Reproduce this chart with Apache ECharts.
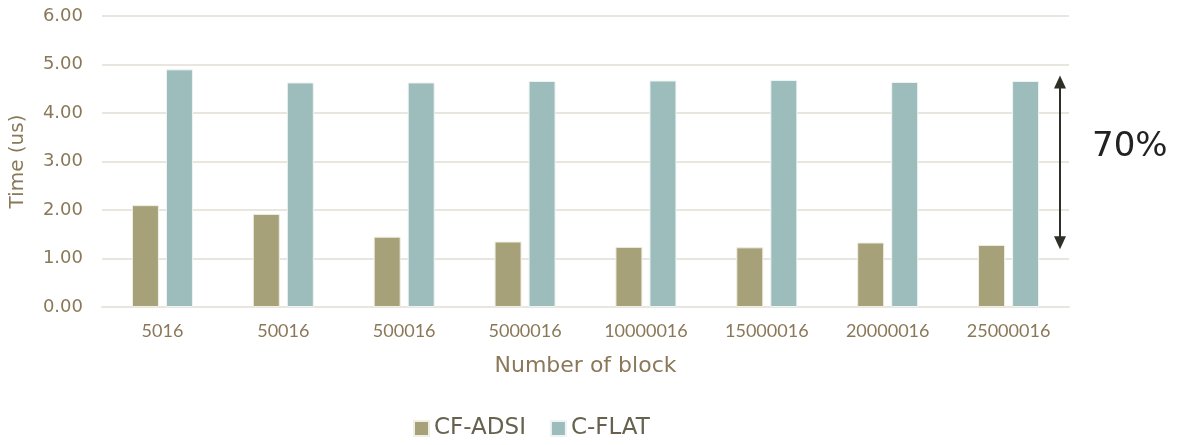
<!DOCTYPE html>
<html>
<head>
<meta charset="utf-8">
<script src="https://cdn.jsdelivr.net/npm/echarts@6/dist/echarts.min.js"></script>
<style>
html, body { margin: 0; padding: 0; background: #fff; }
#main { width: 1181px; height: 445px; }
</style>
</head>
<body>
<div id="main"></div>
<script>
// 数据
var blocks = ['5016', '50016', '500016', '5000016', '10000016', '15000016', '20000016', '25000016'];
var cfAdsi = [2.10, 1.92, 1.45, 1.35, 1.24, 1.23, 1.33, 1.28];
var cFlat  = [4.90, 4.63, 4.63, 4.66, 4.67, 4.68, 4.64, 4.66];
var arrowRange = [1.23, 4.73];   // 箭头上下端 (y值)
var labelText = '70%';

var txtColor = '#8a7858';
var font = 'DejaVu Sans';

var chart = echarts.init(document.getElementById('main'));

var option = {
    animation: false,
    textStyle: { fontFamily: font },
    grid: { left: 101, right: 112, top: 16, bottom: 138 },
    legend: {
        left: 408,
        bottom: 0,
        itemWidth: 15,
        itemHeight: 15,
        itemGap: 24,
        icon: 'rect',
        textStyle: { fontSize: 23, color: '#67624f', fontFamily: font },
        data: ['CF-ADSI', 'C-FLAT']
    },
    xAxis: {
        type: 'category',
        data: blocks,
        name: 'Number of block',
        nameLocation: 'middle',
        nameGap: 48,
        nameTextStyle: { fontSize: 22, color: txtColor },
        axisTick: { show: false },
        axisLine: { lineStyle: { color: '#e8e6df', width: 2 } },
        axisLabel: { fontSize: 18, color: txtColor, margin: 15, fontFamily: 'Lato' }
    },
    yAxis: {
        type: 'value',
        min: 0,
        max: 6,
        interval: 1,
        name: 'Time (us)',
        nameLocation: 'middle',
        nameGap: 74,
        nameTextStyle: { fontSize: 20, color: txtColor },
        axisLabel: {
            fontSize: 18,
            color: txtColor,
            margin: 19,
            formatter: function (v) { return v.toFixed(2); }
        },
        splitLine: { lineStyle: { color: '#e8e6df', width: 2 } }
    },
    series: [
        {
            name: 'CF-ADSI',
            type: 'bar',
            data: cfAdsi,
            barWidth: 27,
            barGap: '26%',
            itemStyle: { color: '#a6a178', borderColor: '#f0efe4', borderWidth: 1 }
        },
        {
            name: 'C-FLAT',
            type: 'bar',
            data: cFlat,
            barWidth: 27,
            itemStyle: { color: '#9dbdbc', borderColor: '#eef4f4', borderWidth: 1 }
        }
    ]
};

chart.setOption(option);

// 箭头 + 70% 注释
var top1 = chart.convertToPixel({ yAxisIndex: 0 }, arrowRange[1]);
var bot1 = chart.convertToPixel({ yAxisIndex: 0 }, arrowRange[0]);
var ax = 1060;
chart.setOption({
    graphic: [
        {
            type: 'line',
            shape: { x1: ax, y1: top1 + 8, x2: ax, y2: bot1 - 8 },
            style: { stroke: '#2f2f28', lineWidth: 2 }
        },
        {
            type: 'polygon',
            shape: { points: [[ax, top1 - 2], [ax - 6, top1 + 11], [ax + 6, top1 + 11]] },
            style: { fill: '#2f2f28' }
        },
        {
            type: 'polygon',
            shape: { points: [[ax, bot1 + 2], [ax - 6, bot1 - 11], [ax + 6, bot1 - 11]] },
            style: { fill: '#2f2f28' }
        },
        {
            type: 'text',
            left: 1092,
            top: 130,
            style: { text: labelText, fontSize: 34, fill: '#222', fontFamily: font }
        }
    ]
});
</script>
</body>
</html>
